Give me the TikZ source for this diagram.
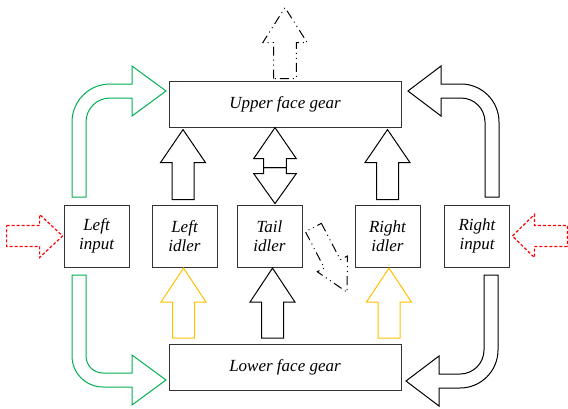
\documentclass[tikz,border=0pt]{standalone}
\usepackage{fontspec}
\setmainfont{Liberation Serif}
\usepackage{xcolor}
\definecolor{gearGreen}{RGB}{0,176,80}
\definecolor{idlerGold}{RGB}{255,192,0}
\definecolor{inRed}{RGB}{255,0,0}
\usetikzlibrary{calc}
\tikzset{
  pics/blkarrow/.style n args={4}{code={
    \draw[pic actions] (0,-#2) -- ({#1-#4},-#2) -- ({#1-#4},-#3) -- (#1,0)
      -- ({#1-#4},#3) -- ({#1-#4},#2) -- (0,#2) -- cycle;
  }},
}
\begin{document}
\begin{tikzpicture}[
    x=1pt, y=-1pt,
    every node/.style={font=\fontsize{17}{19}\selectfont\itshape},
    gear/.style={draw=black!80, line width=0.8pt, minimum width=232pt, minimum height=46pt},
    part/.style={draw=black!80, line width=0.8pt, minimum width=65pt, minimum height=62pt,
                 inner sep=0pt, align=center},
    karr/.style={draw=black, line width=1pt},
    garr/.style={draw=gearGreen, line width=1pt},
    yarr/.style={draw=idlerGold, line width=1pt},
    rarr/.style={draw=inRed, line width=1.2pt, dash pattern=on 3pt off 2pt},
    darr/.style={draw=black, line width=1pt,
                 dash pattern=on 9pt off 4pt on 1pt off 4pt on 1pt off 4pt},
  ]
    \useasboundingbox (0,0) rectangle (568,408);

    % 齿轮
    \node[gear] (upper) at (285, 104)   {Upper face gear};
    \node[gear] (lower) at (285, 367.5) {Lower face gear};

    % 中行
    \node[part] (linput) at (96.5,  236) {Left\\input};
    \node[part] (lidler) at (184.5, 236) {Left\\idler};
    \node[part] (tidler) at (269.5, 236) {Tail\\idler};
    \node[part] (ridler) at (387.5, 236) {Right\\idler};
    \node[part] (rinput) at (477,   236) {Right\\input};

    % 输入
    \pic[rarr] at ($(linput.west)+(-57,0)$) {blkarrow={56}{10.5}{21.5}{23}};
    \pic[rarr, rotate=180] at ($(rinput.east)+(57.5,0)$) {blkarrow={55}{10.5}{21.5}{22}};

    % 弯箭头
    \draw[garr] (72,197) [rounded corners=38pt] -- (72,84) [sharp corners]
      -- (132,84) -- (132,66) -- (166,91) -- (132,116) -- (132,98)
      [rounded corners=24pt] -- (86,98) [sharp corners] -- (86,197) -- cycle;
    \draw[garr] (72,275) [rounded corners=31pt] -- (72,387) [sharp corners]
      -- (132,387) -- (132,405) -- (166,380) -- (132,355) -- (132,373)
      [rounded corners=17pt] -- (86,373) [sharp corners] -- (86,275) -- cycle;
    \draw[karr] (499,197) [rounded corners=38pt] -- (499,84) [sharp corners]
      -- (441,84) -- (441,66) -- (408,91) -- (441,116) -- (441,98)
      [rounded corners=24pt] -- (485,98) [sharp corners] -- (485,197) -- cycle;
    \draw[karr] (498,275) [rounded corners=38pt] -- (498,388) [sharp corners]
      -- (439,388) -- (439,406) -- (406,381) -- (439,356) -- (439,374)
      [rounded corners=24pt] -- (484,374) [sharp corners] -- (484,275) -- cycle;

    % 上行箭头
    \pic[karr, rotate=90] at ($(lidler.north)+(-1.5,-5)$) {blkarrow={70}{11}{22.5}{33}};
    \pic[karr, rotate=90] at ($(ridler.north)+(0,-5)$)    {blkarrow={70}{11}{22.5}{33}};
    \coordinate (tmid) at ($(tidler.north)+(5.5,-37)$);
    \pic[karr, rotate=90]  at (tmid) {blkarrow={40}{11.3}{21.3}{31}};
    \pic[karr, rotate=-90] at (tmid) {blkarrow={36}{11.3}{21.3}{30}};
    \pic[darr, rotate=90] at ($(upper.north)+(0,-2)$) {blkarrow={71}{11.3}{22.2}{35}};
    \pic[darr, rotate=-62.5] at ($(tidler.east)+(11,-8.5)$) {blkarrow={73}{9}{17}{32}};

    % 下行箭头
    \pic[yarr, rotate=90] at ($(lidler.south |- lower.north)+(-1,-6)$)  {blkarrow={70}{11}{22.5}{34}};
    \pic[karr, rotate=90] at ($(tidler.south |- lower.north)+(3,-6)$)   {blkarrow={70}{11}{22.5}{34}};
    \pic[yarr, rotate=90] at ($(ridler.south |- lower.north)+(1.5,-6)$) {blkarrow={70}{11}{22.5}{34}};
  \end{tikzpicture}
\end{document}
